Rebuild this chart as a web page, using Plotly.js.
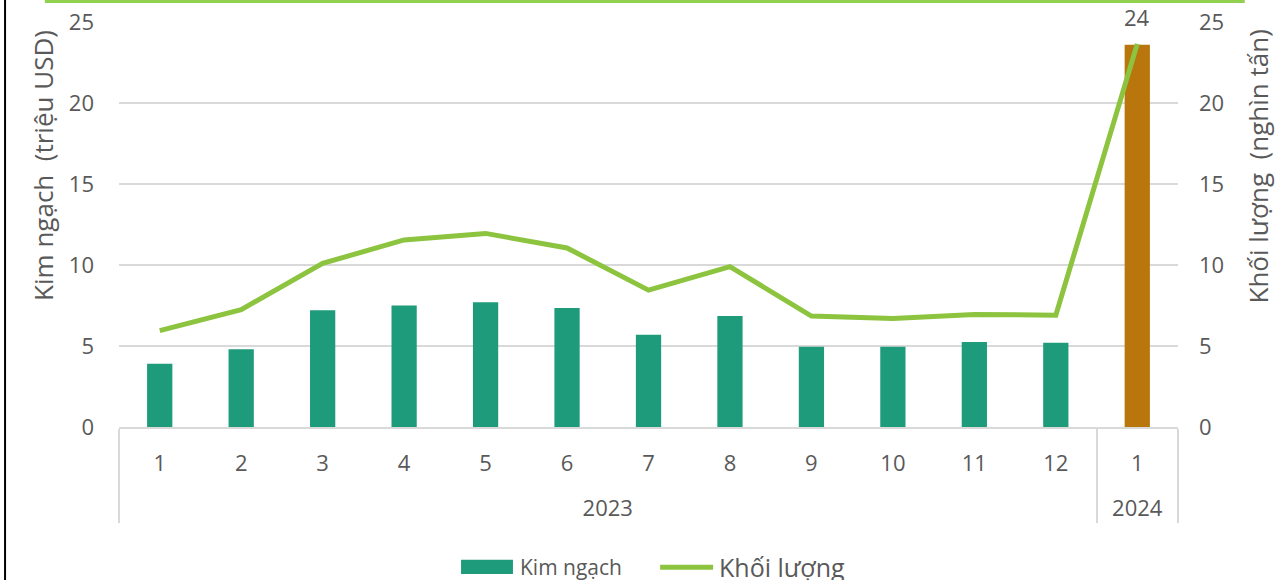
<!DOCTYPE html>
<html>
<head>
<meta charset="utf-8">
<script src="https://cdn.plot.ly/plotly-3.0.1.min.js"></script>
<style>
  html, body { margin: 0; padding: 0; background: #fff; }
  #chart { width: 1280px; height: 580px; }
</style>
</head>
<body>
<div id="chart"></div>
<script>
// số liệu
var nam = ['2023', '2023', '2023', '2023', '2023', '2023', '2023', '2023', '2023', '2023', '2023', '2023', '2024'];
var thang = ['1', '2', '3', '4', '5', '6', '7', '8', '9', '10', '11', '12', '1'];
var kimNgach = [3.9, 4.8, 7.2, 7.5, 7.7, 7.35, 5.7, 6.85, 4.95, 4.95, 5.25, 5.2, 23.6];
var khoiLuong = [5.95, 7.25, 10.1, 11.55, 11.95, 11.05, 8.45, 9.9, 6.85, 6.7, 6.95, 6.9, 23.65];
var mauCot = ['#1e9b7a', '#1e9b7a', '#1e9b7a', '#1e9b7a', '#1e9b7a', '#1e9b7a', '#1e9b7a',
              '#1e9b7a', '#1e9b7a', '#1e9b7a', '#1e9b7a', '#1e9b7a', '#b8760c'];

var textColor = '#595959';
var gridColor = '#d9d9d9';
var fontFam = '"Open Sans", "Noto Sans", sans-serif';

// dòng năm hạ xuống một dòng cho giống Excel
var namNhan = nam.map(function (n) { return '<br>' + n; });

var cot = {
  x: [namNhan, thang],
  y: kimNgach,
  type: 'bar',
  name: 'Kim ngạch',
  marker: { color: mauCot },
  hoverinfo: 'y'
};

var duong = {
  x: [namNhan, thang],
  y: khoiLuong,
  type: 'scatter',
  mode: 'lines',
  name: 'Khối lượng',
  yaxis: 'y2',
  line: { color: '#8cc43f', width: 5 },
  hoverinfo: 'y'
};

var last = kimNgach.length - 1;

var layout = {
  width: 1280,
  height: 580,
  margin: { l: 119, r: 102, t: 22, b: 153 },
  paper_bgcolor: '#fff',
  plot_bgcolor: '#fff',
  font: { family: fontFam, size: 22, color: textColor },
  showlegend: false,
  bargap: 0.69,
  xaxis: {
    type: 'multicategory',
    showline: true,
    linecolor: gridColor,
    linewidth: 2,
    showdividers: true,
    dividercolor: gridColor,
    dividerwidth: 2,
    ticks: '',
    ticklabelstandoff: 16,
    tickfont: { size: 22, color: textColor }
  },
  yaxis: {
    range: [0, 25],
    dtick: 5,
    showgrid: true,
    gridcolor: gridColor,
    gridwidth: 2,
    zeroline: false,
    ticklabelstandoff: 24,
    tickfont: { size: 22, color: textColor }
  },
  yaxis2: {
    range: [0, 25],
    dtick: 5,
    overlaying: 'y',
    side: 'right',
    showgrid: false,
    zeroline: false,
    ticklabelstandoff: 20,
    tickfont: { size: 22, color: textColor }
  },
  annotations: [
    {
      x: last, y: kimNgach[last], xref: 'x', yref: 'y',
      text: String(Math.round(kimNgach[last])),
      showarrow: false, yshift: 28,
      font: { size: 22, color: textColor }
    },
    // tiêu đề trục
    {
      xref: 'paper', yref: 'paper', x: -0.0718, y: 0.647,
      xanchor: 'center', yanchor: 'middle', textangle: -90, showarrow: false,
      text: 'Kim ngạch  (triệu USD)', font: { size: 26, color: textColor }
    },
    {
      xref: 'paper', yref: 'paper', x: 1.0755, y: 0.643,
      xanchor: 'center', yanchor: 'middle', textangle: -90, showarrow: false,
      text: 'Khối lượng  (nghìn tấn)', font: { size: 26, color: textColor }
    },
    // chú giải
    {
      xref: 'paper', yref: 'paper', x: 0.377, y: -0.346,
      xanchor: 'left', yanchor: 'middle', showarrow: false,
      text: 'Kim ngạch', font: { size: 21, color: textColor }
    },
    {
      xref: 'paper', yref: 'paper', x: 0.565, y: -0.346,
      xanchor: 'left', yanchor: 'middle', showarrow: false,
      text: 'Khối lượng', font: { size: 25, color: textColor }
    }
  ],
  shapes: [
    { type: 'rect', xref: 'paper', yref: 'paper', x0: 0.323, x1: 0.372, y0: -0.363, y1: -0.328,
      fillcolor: '#1e9b7a', line: { width: 0 } },
    { type: 'line', xref: 'paper', yref: 'paper', x0: 0.511, x1: 0.561, y0: -0.346, y1: -0.346,
      line: { color: '#8cc43f', width: 5 } },
    // khung
    { type: 'line', xref: 'paper', yref: 'paper', x0: -0.07, x1: 1.063, y0: 1.052, y1: 1.052,
      line: { color: '#92d050', width: 4 } },
    { type: 'line', xref: 'paper', yref: 'paper', x0: -0.1076, x1: -0.1076, y0: 1.06, y1: -0.38,
      line: { color: '#000', width: 2 } }
  ]
};

Plotly.newPlot('chart', [cot, duong], layout, { displayModeBar: false, staticPlot: true });
</script>
</body>
</html>
